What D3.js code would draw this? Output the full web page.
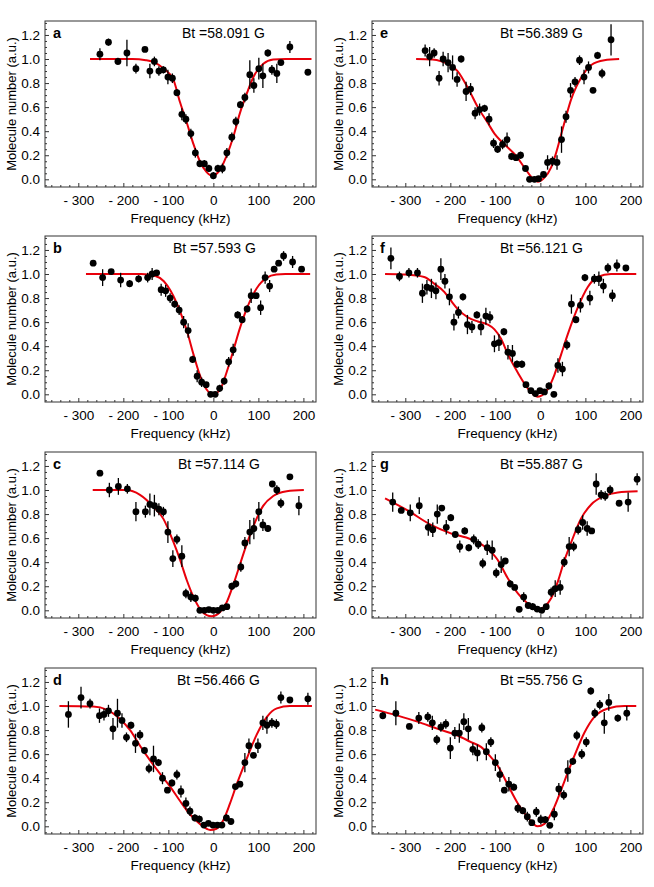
<!DOCTYPE html>
<html><head><meta charset="utf-8">
<script src="https://cdn.jsdelivr.net/npm/d3@7"></script>
<style>
body{margin:0;background:#fff;}
text{font-family:"Liberation Sans",Arial,sans-serif;fill:#000;}
</style></head>
<body><svg id="chart" width="654" height="887"></svg>
<script>
// ---- data (frequency kHz, molecule number, error) ----
const panelLetters = ["a","b","c","d","e","f","g","h"];
const fieldValues = ["58.091","57.593","57.114","56.466","56.389","56.121","55.887","55.756"];
const xTickValues = [-300,-200,-100,0,100,200];
const yTickValues = [0,0.2,0.4,0.6,0.8,1.0,1.2];

const dataA = [[-252,1.04,0.05],[-233,1.14,0.03],[-212,0.98,0.03],[-192,1.05,0.11],[-172,0.92,0.04],[-152,1.08,0.01],[-141,0.90,0.06],[-131,0.98,0.04],[-121,0.90,0.04],[-111,0.91,0.03],[-101,0.85,0.06],[-91,0.84,0.04],[-81,0.72,0.03],[-70,0.54,0.05],[-61,0.50,0.04],[-50,0.38,0.04],[-40,0.22,0.04],[-30,0.13,0.03],[-20,0.13,0.03],[-10,0.09,0.03],[0,0.03,0.03],[10,0.09,0.03],[20,0.09,0.04],[30,0.22,0.04],[41,0.35,0.04],[50,0.48,0.04],[60,0.62,0.03],[70,0.68,0.04],[81,0.87,0.12],[90,0.78,0.06],[101,0.92,0.09],[110,0.86,0.10],[121,1.05,0.03],[130,0.91,0.04],[141,0.88,0.08],[150,0.97,0.02],[170,1.10,0.05],[210,0.89,0.01]];
const fitA = [[-274,1.0],[-180,1.0],[-150,0.99],[-130,0.97],[-110,0.92],[-89,0.83],[-74,0.64],[-59,0.47],[-44,0.29],[-30,0.15],[-15,0.06],[-2,0.03],[15,0.08],[30,0.2],[44,0.35],[59,0.55],[74,0.71],[89,0.85],[111,0.96],[133,0.995],[160,1.0],[218,1.0]];

const dataB = [[-267,1.09,0.02],[-246,0.97,0.07],[-227,1.02,0.01],[-206,0.95,0.06],[-186,0.92,0.03],[-166,0.96,0.03],[-146,0.97,0.04],[-136,1.00,0.05],[-126,1.01,0.02],[-116,0.87,0.05],[-106,0.86,0.05],[-96,0.80,0.04],[-86,0.75,0.03],[-76,0.70,0.04],[-66,0.60,0.05],[-56,0.53,0.06],[-46,0.29,0.03],[-36,0.15,0.05],[-26,0.10,0.04],[-16,0.08,0.02],[-6,0.0,0.01],[4,0.0,0.01],[14,0.05,0.03],[24,0.11,0.03],[34,0.27,0.04],[44,0.37,0.05],[54,0.66,0.03],[64,0.62,0.03],[75,0.71,0.03],[84,0.82,0.06],[95,0.82,0.02],[105,0.72,0.06],[115,0.97,0.05],[125,0.90,0.05],[135,1.04,0.02],[145,1.09,0.02],[156,1.15,0.04],[176,1.10,0.05],[196,1.04,0.01]];
const fitB = [[-283,1.0],[-160,1.0],[-130,0.985],[-110,0.94],[-95,0.86],[-74,0.69],[-59,0.53],[-44,0.33],[-30,0.16],[-15,0.04],[0,0.0],[15,0.04],[30,0.19],[44,0.36],[59,0.55],[74,0.71],[96,0.88],[119,0.97],[140,0.995],[160,1.0],[215,1.0]];

const dataC = [[-252,1.14,0.01],[-231,1.00,0.06],[-211,1.03,0.07],[-191,1.01,0.04],[-172,0.82,0.08],[-151,0.82,0.05],[-141,0.88,0.09],[-131,0.87,0.09],[-121,0.84,0.05],[-111,0.82,0.04],[-101,0.65,0.09],[-90,0.43,0.07],[-81,0.59,0.04],[-70,0.45,0.09],[-61,0.14,0.04],[-50,0.11,0.04],[-40,0.10,0.03],[-30,0.0,0.01],[-20,0.0,0.01],[-10,0.006,0.01],[0,0.0,0.01],[10,0.0,0.01],[20,0.02,0.01],[30,0.03,0.01],[41,0.20,0.03],[50,0.22,0.03],[61,0.36,0.04],[70,0.56,0.05],[81,0.65,0.10],[90,0.68,0.09],[101,0.82,0.08],[110,0.71,0.05],[121,0.68,0.03],[131,1.05,0.02],[141,1.00,0.04],[150,0.89,0.04],[170,1.11,0.01],[190,0.87,0.08]];
const fitC = [[-268,1.0],[-193,1.0],[-163,0.96],[-133,0.86],[-111,0.76],[-89,0.57],[-74,0.42],[-59,0.25],[-44,0.11],[-30,0.014],[-15,-0.04],[-4,-0.05],[15,-0.014],[30,0.07],[44,0.21],[59,0.38],[74,0.55],[89,0.70],[111,0.87],[133,0.95],[163,0.99],[201,1.0]];

const dataD = [[-322,0.93,0.11],[-294,1.07,0.09],[-274,1.02,0.04],[-253,0.92,0.06],[-243,0.93,0.05],[-233,0.96,0.05],[-223,0.81,0.09],[-213,0.94,0.12],[-203,0.88,0.06],[-193,0.74,0.04],[-183,0.84,0.03],[-173,0.69,0.08],[-163,0.76,0.04],[-153,0.63,0.03],[-143,0.48,0.04],[-133,0.56,0.11],[-122,0.53,0.03],[-113,0.40,0.05],[-102,0.30,0.02],[-92,0.36,0.03],[-81,0.43,0.04],[-72,0.29,0.05],[-61,0.19,0.05],[-52,0.125,0.04],[-41,0.07,0.03],[-31,0.06,0.03],[-21,0.01,0.01],[-11,0.025,0.01],[-1,0.01,0.01],[9,0.01,0.01],[19,0.01,0.01],[29,0.07,0.03],[39,0.04,0.02],[49,0.33,0.02],[59,0.35,0.02],[70,0.53,0.08],[79,0.67,0.06],[89,0.59,0.02],[99,0.67,0.06],[110,0.86,0.06],[119,0.84,0.07],[130,0.86,0.04],[140,0.85,0.04],[150,1.07,0.05],[170,1.05,0.01],[210,1.06,0.05]];
const fitD = [[-342,1.0],[-267,0.995],[-237,0.97],[-207,0.89],[-185,0.80],[-163,0.67],[-141,0.55],[-119,0.44],[-96,0.33],[-74,0.21],[-52,0.10],[-30,0.02],[-7,-0.03],[7,-0.02],[22,0.05],[37,0.19],[52,0.35],[74,0.56],[96,0.76],[119,0.91],[141,0.98],[170,1.0],[219,1.0]];

const dataE = [[-256,1.07,0.05],[-246,1.02,0.08],[-236,1.05,0.04],[-225,0.84,0.06],[-216,1.00,0.06],[-205,0.97,0.08],[-195,0.93,0.10],[-185,0.83,0.06],[-176,1.00,0.03],[-165,0.73,0.08],[-155,0.75,0.05],[-145,0.55,0.05],[-135,0.58,0.05],[-124,0.59,0.03],[-114,0.50,0.05],[-104,0.30,0.04],[-95,0.25,0.03],[-84,0.29,0.04],[-74,0.33,0.06],[-64,0.19,0.03],[-54,0.18,0.02],[-44,0.20,0.03],[-33,0.09,0.02],[-24,0.0,0.01],[-13,0.0,0.01],[-4,0.005,0.01],[7,0.04,0.02],[16,0.14,0.06],[27,0.15,0.04],[37,0.14,0.06],[47,0.33,0.11],[57,0.52,0.05],[67,0.74,0.06],[77,0.81,0.04],[87,0.99,0.04],[97,0.85,0.06],[107,0.93,0.05],[117,0.74,0.01],[127,1.03,0.03],[137,0.88,0.04],[157,1.16,0.13]];
const fitE = [[-276,1.0],[-240,0.995],[-220,0.98],[-206,0.96],[-184,0.90],[-161,0.76],[-139,0.60],[-117,0.47],[-102,0.38],[-88,0.32],[-74,0.27],[-55,0.2],[-36,0.1],[-20,0.02],[-6,-0.02],[8,0.01],[24,0.1],[35,0.22],[46,0.37],[57,0.52],[68,0.66],[80,0.77],[90,0.84],[113,0.95],[142,0.99],[175,1.0]];

const dataF = [[-332,1.13,0.09],[-313,0.98,0.04],[-292,1.01,0.04],[-273,1.01,0.04],[-262,0.84,0.08],[-252,0.89,0.06],[-242,0.88,0.08],[-232,0.86,0.07],[-221,1.04,0.09],[-212,0.94,0.06],[-202,0.81,0.07],[-192,0.60,0.07],[-182,0.68,0.05],[-172,0.81,0.03],[-162,0.58,0.08],[-152,0.56,0.05],[-141,0.66,0.03],[-132,0.56,0.07],[-121,0.65,0.07],[-112,0.64,0.05],[-102,0.42,0.07],[-92,0.43,0.07],[-81,0.52,0.03],[-72,0.35,0.06],[-62,0.34,0.07],[-52,0.25,0.03],[-41,0.25,0.03],[-32,0.08,0.02],[-21,0.03,0.02],[-11,0.006,0.01],[-1,0.03,0.02],[9,0.02,0.02],[19,0.07,0.03],[30,0.0,0.01],[39,0.24,0.06],[49,0.21,0.06],[59,0.41,0.04],[69,0.75,0.08],[79,0.62,0.03],[89,0.74,0.06],[99,0.97,0.03],[110,0.80,0.06],[120,0.96,0.04],[130,0.96,0.06],[140,0.90,0.06],[150,1.05,0.04],[160,0.82,0.05],[170,1.07,0.05],[190,1.05,0.02]];
const fitF = [[-345,1.0],[-300,0.995],[-258,0.975],[-236,0.92],[-213,0.85],[-199,0.78],[-184,0.71],[-161,0.64],[-139,0.605],[-117,0.58],[-102,0.54],[-87,0.46],[-73,0.34],[-50,0.18],[-28,0.05],[-6,-0.02],[16,0.04],[31,0.16],[46,0.33],[61,0.5],[83,0.72],[105,0.89],[127,0.975],[157,1.0],[213,1.0]];

const dataG = [[-328,0.90,0.08],[-309,0.83,0.02],[-289,0.81,0.07],[-269,0.87,0.07],[-249,0.69,0.07],[-239,0.67,0.06],[-229,0.80,0.08],[-219,0.85,0.01],[-209,0.69,0.06],[-199,0.77,0.03],[-189,0.63,0.01],[-179,0.53,0.05],[-168,0.66,0.03],[-159,0.52,0.03],[-148,0.59,0.04],[-138,0.55,0.04],[-128,0.39,0.04],[-118,0.52,0.06],[-107,0.50,0.08],[-98,0.31,0.04],[-87,0.38,0.07],[-78,0.41,0.02],[-67,0.22,0.03],[-57,0.19,0.01],[-47,0.008,0.01],[-37,0.11,0.04],[-27,0.04,0.01],[-17,0.03,0.03],[-7,0.01,0.01],[3,0.0,0.01],[13,0.03,0.02],[24,0.15,0.04],[33,0.18,0.07],[44,0.19,0.06],[53,0.40,0.04],[64,0.53,0.08],[74,0.53,0.04],[84,0.67,0.04],[94,0.73,0.06],[104,0.68,0.06],[114,0.66,0.02],[124,1.05,0.09],[135,0.96,0.04],[144,0.95,0.04],[155,1.00,0.04],[175,0.89,0.01],[195,0.90,0.08],[215,1.09,0.05]];
const fitG = [[-345,0.93],[-295,0.83],[-243,0.71],[-199,0.64],[-154,0.59],[-124,0.53],[-95,0.42],[-73,0.27],[-50,0.14],[-28,0.056],[-6,0.006],[9,0.03],[24,0.1],[39,0.24],[53,0.41],[68,0.56],[90,0.76],[113,0.88],[142,0.95],[172,0.98],[216,0.99]];

const dataH = [[-350,0.92,0.03],[-321,0.94,0.10],[-291,0.83,0.02],[-270,0.90,0.05],[-250,0.91,0.04],[-240,0.86,0.06],[-230,0.72,0.04],[-221,0.825,0.04],[-210,0.85,0.04],[-200,0.65,0.09],[-190,0.775,0.05],[-180,0.775,0.08],[-170,0.87,0.07],[-160,0.81,0.09],[-150,0.64,0.05],[-140,0.61,0.07],[-130,0.82,0.04],[-120,0.62,0.07],[-110,0.70,0.04],[-100,0.53,0.07],[-90,0.43,0.06],[-80,0.30,0.02],[-70,0.35,0.06],[-59,0.325,0.03],[-50,0.15,0.04],[-39,0.13,0.03],[-29,0.08,0.04],[-19,0.03,0.02],[-9,0.12,0.04],[1,0.055,0.04],[11,0.055,0.03],[21,0.008,0.01],[31,0.10,0.05],[41,0.31,0.05],[52,0.26,0.04],[61,0.46,0.09],[72,0.54,0.03],[81,0.755,0.04],[92,0.60,0.04],[102,0.70,0.04],[112,1.125,0.03],[121,0.94,0.04],[132,1.01,0.04],[142,0.86,0.09],[152,1.03,0.07],[172,0.90,0.03],[192,0.94,0.06]];
const fitH = [[-367,0.97],[-317,0.92],[-273,0.87],[-228,0.81],[-184,0.755],[-154,0.70],[-132,0.66],[-110,0.575],[-95,0.505],[-73,0.35],[-50,0.19],[-28,0.075],[-6,0.0],[9,0.02],[31,0.16],[53,0.37],[76,0.59],[98,0.78],[120,0.91],[150,0.98],[187,1.0],[213,1.0]];

const allData = [dataA,dataB,dataC,dataD,dataE,dataF,dataG,dataH];
const allFits = [fitA,fitB,fitC,fitD,fitE,fitF,fitG,fitH];

// ---- layout ----
const colX = [45, 372], rowY = [21, 236, 452, 668];
const pw = 271, ph = 166;
const labelOffsets = [137,128,133,132,128,128,128,128];

const svg = d3.select("#chart");
const x = d3.scaleLinear().domain([-374, 228]).range([0, pw]);
const y = d3.scaleLinear().domain([-0.064, 1.316]).range([ph, 0]);
const line = d3.line().x(d => x(d[0])).y(d => y(d[1])).curve(d3.curveMonotoneX);

panelLetters.forEach((letter, i) => {
  const col = Math.floor(i / 4), row = i % 4;
  const g = svg.append("g").attr("transform", `translate(${colX[col]},${rowY[row]})`);

  // minor ticks
  const xMinor = d3.range(-360, 221, 20).filter(v => v % 100 !== 0);
  g.append("g").attr("transform", `translate(0,${ph})`)
    .call(d3.axisBottom(x).tickValues(xMinor).tickSize(-2).tickFormat(""))
    .call(s => s.select(".domain").remove())
    .selectAll("line").attr("stroke", "#333");
  const yMinor = d3.range(-0.05, 1.31, 0.05).filter(v => Math.abs(Math.round(v*10) - v*10) > 0.01 || Math.round(v*10) % 2 !== 0);
  g.append("g")
    .call(d3.axisLeft(y).tickValues(yMinor).tickSize(-2).tickFormat(""))
    .call(s => s.select(".domain").remove())
    .selectAll("line").attr("stroke", "#333");

  // major axes
  const xa = g.append("g").attr("transform", `translate(0,${ph})`)
    .call(d3.axisBottom(x).tickValues(xTickValues)
      .tickFormat(d => d < 0 ? "- " + Math.abs(d) : String(d))
      .tickSizeInner(-4).tickSizeOuter(0).tickPadding(8));
  xa.select(".domain").remove();
  xa.selectAll("line").attr("stroke", "#333");
  xa.selectAll("text").style("font-size", "13.5px").attr("fill", "#000")
    .style("font-family", '"Liberation Sans",Arial,sans-serif');

  const ya = g.append("g")
    .call(d3.axisLeft(y).tickValues(yTickValues).tickFormat(d3.format(".1f"))
      .tickSizeInner(-4).tickSizeOuter(0).tickPadding(5));
  ya.select(".domain").remove();
  ya.selectAll("line").attr("stroke", "#333");
  ya.selectAll("text").style("font-size", "13.5px").attr("fill", "#000")
    .style("font-family", '"Liberation Sans",Arial,sans-serif');

  // frame
  g.append("rect").attr("width", pw).attr("height", ph)
    .attr("fill", "none").attr("stroke", "#333").attr("stroke-width", 1);

  // fit curve
  g.append("path").datum(allFits[i]).attr("d", line)
    .attr("fill", "none").attr("stroke", "#e8000b").attr("stroke-width", 2);

  // error bars
  g.selectAll(".eb").data(allData[i]).enter().append("line")
    .attr("x1", d => x(d[0])).attr("x2", d => x(d[0]))
    .attr("y1", d => y(d[1] - d[2])).attr("y2", d => y(d[1] + d[2]))
    .attr("stroke", "#000").attr("stroke-width", 1.3);
  // points
  g.selectAll(".pt").data(allData[i]).enter().append("circle")
    .attr("cx", d => x(d[0])).attr("cy", d => y(d[1])).attr("r", 3.4)
    .attr("fill", "#000");

  // panel letter
  g.append("text").attr("x", 8).attr("y", 17).text(letter)
    .style("font-size", "14.5px").style("font-weight", "bold");
  // field label
  g.append("text").attr("x", labelOffsets[i]).attr("y", 17)
    .text("Bt =" + fieldValues[i] + " G").style("font-size", "14px");

  // axis titles
  g.append("text").attr("x", pw / 2).attr("y", ph + 36).attr("text-anchor", "middle")
    .text("Frequency (kHz)").style("font-size", "13.5px");
  g.append("text").attr("transform", `translate(-29,${ph/2}) rotate(-90)`)
    .attr("text-anchor", "middle").text("Molecule number (a.u.)").style("font-size", "13px");
});
</script></body></html>
